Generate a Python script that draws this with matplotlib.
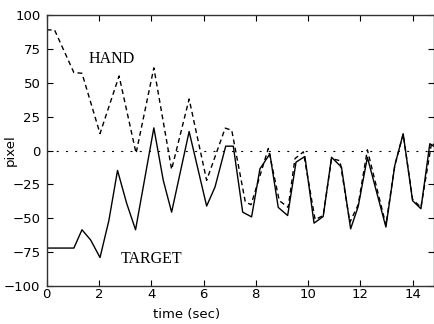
import matplotlib
matplotlib.use("Agg")
import matplotlib.pyplot as plt

# hand trajectory (dashed)
hand_t = [0, 0.3, 1.04, 1.35, 2.04, 2.77, 3.42, 4.1, 4.78, 5.45, 6.12, 6.83, 7.08,
          7.6, 7.82, 8.48, 8.9, 9.24, 9.5, 9.82, 10.27, 10.58, 10.9, 11.22, 11.6,
          11.92, 12.27, 12.98, 13.32, 13.64, 14.0, 14.32, 14.73, 14.82]
hand_y = [89, 89, 57.5, 57, 12.5, 55, -2, 61, -14, 38, -22, 16.5, 15,
          -38, -40, 1.5, -37, -42, -6, -1, -51, -48, -6, -7.5, -53,
          -40, 0.5, -55, -11, 12, -36, -42, 6, 4]

# target trajectory (solid)
target_t = [0, 1.04, 1.35, 1.68, 2.04, 2.38, 2.71, 3.06, 3.4, 4.1, 4.46, 4.78, 5.45,
            6.12, 6.44, 6.85, 7.14, 7.5, 7.84, 8.16, 8.54, 8.86, 9.22, 9.54, 9.88,
            10.23, 10.58, 10.9, 11.28, 11.63, 11.92, 12.27, 12.98, 13.32, 13.64,
            14.0, 14.32, 14.66, 14.82]
target_y = [-72, -72, -58.5, -66, -79, -51.6, -14.7, -39, -58.5, 16.7, -22, -45.5, 14,
            -41, -27, 3.2, 3.2, -45.5, -49, -13.5, -2.5, -42, -48, -8.6, -4.4,
            -53.6, -48.7, -5, -12.3, -57.8, -41.3, -5, -56.5, -11, 12.3,
            -37, -43, 5, 3]

xticks = [0, 2, 4, 6, 8, 10, 12, 14]
yticks = [-100, -75, -50, -25, 0, 25, 50, 75, 100]

fig = plt.figure(figsize=(4.34, 3.24), dpi=100)
ax = fig.add_axes([46.7 / 434, 1 - 286 / 324, 1 - 46.7 / 434, (286 - 15) / 324])

ax.axhline(0, color="black", lw=0.8, dashes=(1.8, 6.5))
ax.plot(hand_t, hand_y, color="black", lw=1.0, dashes=(3.5, 2.5))
ax.plot(target_t, target_y, color="black", lw=1.0)

ax.text(2.5, 67.8, "HAND", family="Liberation Serif", fontsize=11.5,
        ha="center", va="center")
ax.text(4.02, -79.9, "TARGET", family="Liberation Serif", fontsize=11.5,
        ha="center", va="center")

ax.set_xlim(0, 14.82)
ax.set_ylim(-100, 100)
ax.set_xticks(xticks)
ax.set_yticks(yticks)
ax.tick_params(direction="in", top=True, right=True, length=4, width=0.8,
               labelsize=9.5)
ax.tick_params(axis="x", pad=1.5)
ax.tick_params(axis="y", pad=4.5)
for s in ax.spines.values():
    s.set_linewidth(1.0)
    s.set_color("#333333")

ax.set_xlabel("time (sec)", fontsize=9.5)
ax.xaxis.set_label_coords(0.362, -0.08)
ax.set_ylabel("pixel", fontsize=9.5)
ax.yaxis.set_label_coords(-0.078, 0.5)

fig.savefig("out.png", dpi=100)
